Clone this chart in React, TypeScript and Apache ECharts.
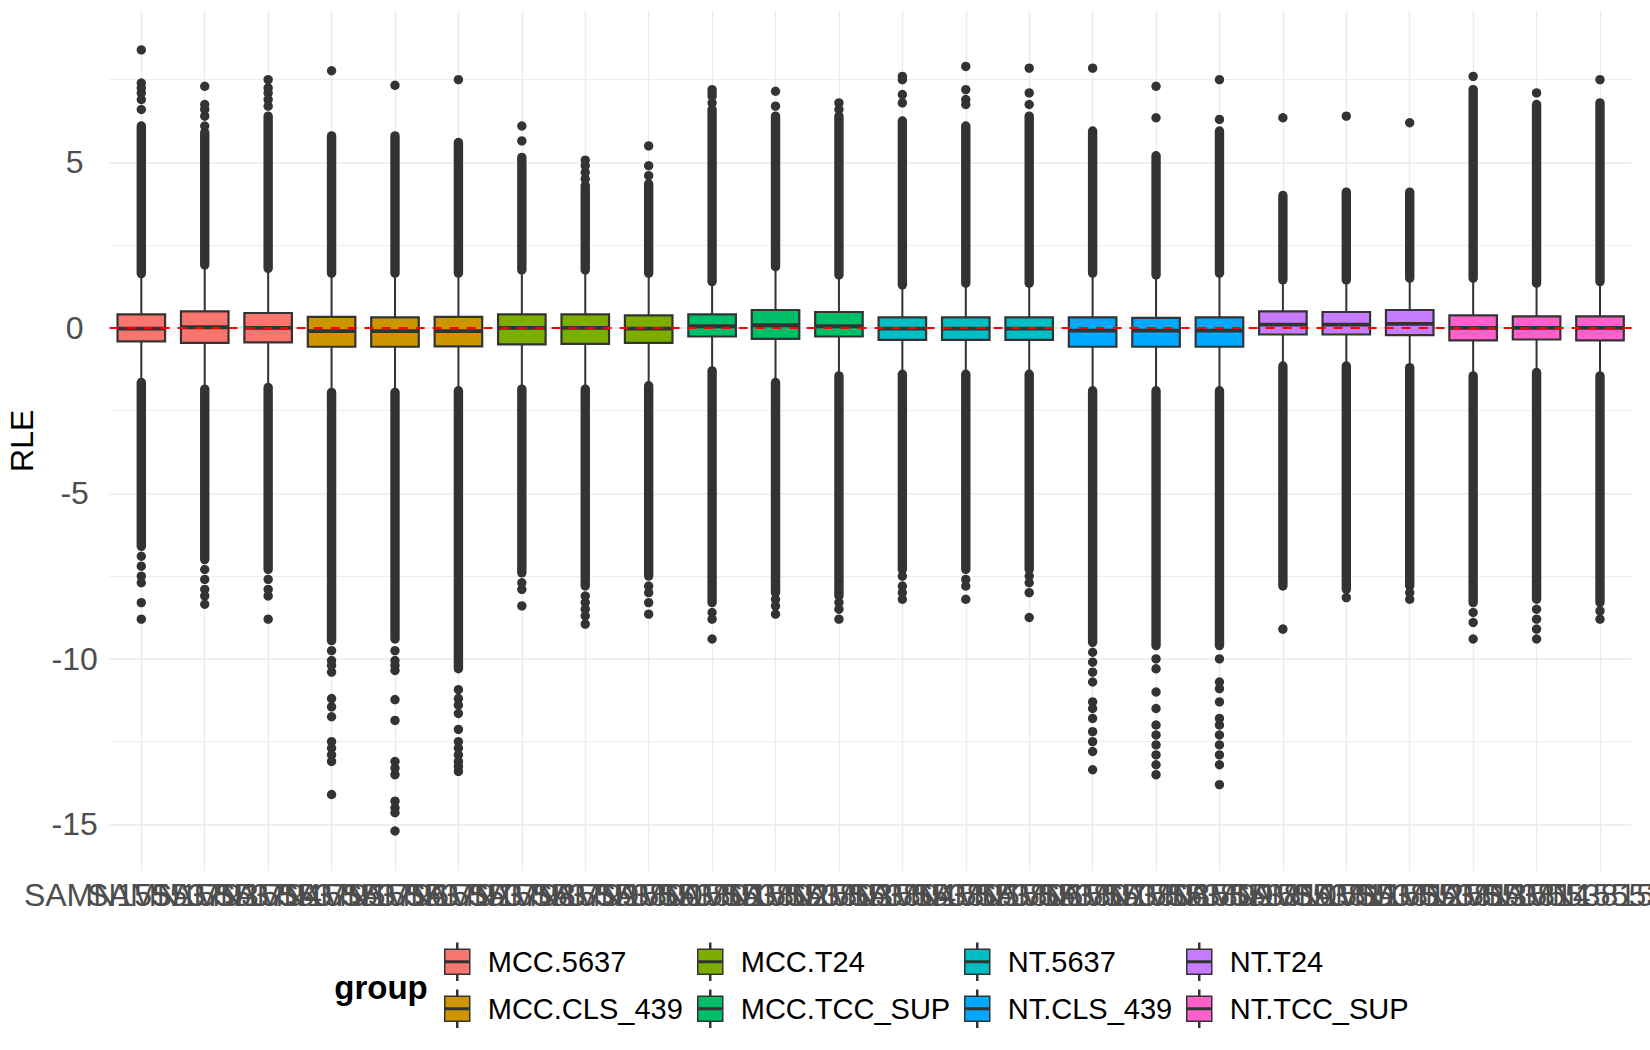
import React, { useEffect, useRef } from "react";
import * as echarts from "echarts";

const samples = [
  "SAMN15553793", "SAMN15553794", "SAMN15553795", "SAMN15553796", "SAMN15553797", "SAMN15553798",
  "SAMN15553799", "SAMN15553800", "SAMN15553801", "SAMN15553802", "SAMN15553803", "SAMN15553804",
  "SAMN15553805", "SAMN15553806", "SAMN15553807", "SAMN15553808", "SAMN15553809", "SAMN15553810",
  "SAMN15553811", "SAMN15553812", "SAMN15553813", "SAMN15553814", "SAMN15553815", "SAMN15553816",
];

const groups = ["MCC.5637", "MCC.CLS_439", "MCC.T24", "MCC.TCC_SUP", "NT.5637", "NT.CLS_439", "NT.T24", "NT.TCC_SUP"];
const groupColors = ["#F8766D", "#CD9600", "#7CAE00", "#00BE67", "#00BFC4", "#00A9FF", "#C77CFF", "#FF61CC"];
const sampleGroup = [0, 0, 0, 1, 1, 1, 2, 2, 2, 3, 3, 3, 4, 4, 4, 5, 5, 5, 6, 6, 6, 7, 7, 7];

// [lower whisker, Q1, median, Q3, upper whisker]
const boxStats = [
  [-1.65, -0.41, -0.02, 0.41, 1.64],
  [-1.85, -0.45, 0.02, 0.5, 1.9],
  [-1.8, -0.44, 0.0, 0.45, 1.8],
  [-1.95, -0.57, -0.1, 0.33, 1.65],
  [-1.95, -0.57, -0.1, 0.32, 1.65],
  [-1.9, -0.56, -0.1, 0.33, 1.65],
  [-1.85, -0.5, 0.0, 0.41, 1.75],
  [-1.85, -0.48, 0.0, 0.41, 1.75],
  [-1.75, -0.45, -0.02, 0.38, 1.65],
  [-1.3, -0.26, 0.05, 0.41, 1.4],
  [-1.65, -0.33, 0.08, 0.54, 1.85],
  [-1.45, -0.26, 0.05, 0.48, 1.6],
  [-1.4, -0.36, -0.02, 0.32, 1.3],
  [-1.4, -0.36, -0.02, 0.32, 1.35],
  [-1.4, -0.36, -0.02, 0.32, 1.35],
  [-1.9, -0.57, -0.08, 0.32, 1.65],
  [-1.9, -0.57, -0.08, 0.3, 1.6],
  [-1.9, -0.57, -0.08, 0.32, 1.65],
  [-1.15, -0.2, 0.1, 0.5, 1.45],
  [-1.15, -0.2, 0.1, 0.48, 1.45],
  [-1.2, -0.22, 0.12, 0.54, 1.5],
  [-1.45, -0.38, 0.0, 0.38, 1.5],
  [-1.35, -0.35, 0.0, 0.35, 1.35],
  [-1.45, -0.38, 0.0, 0.35, 1.4],
];

// where the densely overlapping outlier points end (upper / lower)
const denseHigh = [6.1, 5.9, 6.4, 5.8, 5.8, 5.6, 5.15, 4.3, 4.35, 6.6, 6.4, 6.4, 6.25, 6.1, 6.4, 5.95, 5.2, 5.95, 4.0, 4.1, 4.1, 7.2, 6.75, 6.8];
const denseLow = [-6.6, -7.0, -7.3, -9.45, -9.4, -10.3, -7.4, -7.8, -7.5, -8.3, -8.0, -8.1, -7.3, -7.3, -7.3, -9.5, -9.6, -9.6, -7.8, -7.9, -7.8, -8.3, -8.2, -8.3];

// isolated outliers beyond the dense columns
const sparseHigh = [
  [6.6, 6.9, 7.1, 7.25, 7.4, 8.4],
  [6.1, 6.4, 6.6, 6.75, 7.3],
  [6.7, 6.9, 7.1, 7.25, 7.5],
  [7.77],
  [7.33],
  [7.5],
  [5.65, 6.1],
  [4.5, 4.7, 4.9, 5.07],
  [4.6, 4.9, 5.5],
  [6.8, 7.0, 7.1, 7.2],
  [6.7, 7.15],
  [6.6, 6.8],
  [6.8, 7.05, 7.5, 7.6],
  [6.75, 6.9, 7.2, 7.9],
  [6.75, 7.1, 7.85],
  [7.85],
  [6.35, 7.3],
  [6.3, 7.5],
  [6.35],
  [6.4],
  [6.2],
  [7.6],
  [7.1],
  [7.5],
];
const sparseLow = [
  [-6.9, -7.2, -7.5, -7.7, -8.3, -8.8],
  [-7.3, -7.6, -7.9, -8.1, -8.35],
  [-7.6, -7.9, -8.1, -8.8],
  [-9.75, -10.05, -10.2, -10.4, -11.2, -11.45, -11.75, -12.5, -12.7, -12.9, -13.1, -14.1],
  [-9.75, -10.05, -10.2, -10.35, -11.23, -11.86, -13.1, -13.3, -13.5, -14.3, -14.5, -14.65, -15.2],
  [-10.93, -11.2, -11.4, -11.65, -12.13, -12.5, -12.7, -12.9, -13.1, -13.25, -13.4],
  [-7.7, -7.9, -8.4],
  [-8.1, -8.3, -8.5, -8.7, -8.95],
  [-7.8, -8.0, -8.3, -8.65],
  [-8.6, -8.8, -9.4],
  [-8.2, -8.4, -8.65],
  [-8.3, -8.5, -8.8],
  [-7.5, -7.8, -8.0, -8.2],
  [-7.6, -7.8, -8.2],
  [-7.5, -7.7, -8.0, -8.75],
  [-9.8, -10.1, -10.4, -10.7, -11.3, -11.5, -11.8, -12.2, -12.5, -12.8, -13.35],
  [-10.0, -10.3, -11.0, -11.5, -12.0, -12.3, -12.6, -12.9, -13.2, -13.5],
  [-10.0, -10.7, -10.9, -11.3, -11.8, -12.0, -12.3, -12.6, -12.9, -13.2, -13.8],
  [-9.1],
  [-8.15],
  [-8.0, -8.2],
  [-8.6, -8.9, -9.4],
  [-8.5, -8.8, -9.1, -9.4],
  [-8.55, -8.8],
];

const yTicks = [-15, -10, -5, 0, 5];
const yMinorTicks = [-12.5, -7.5, -2.5, 2.5, 7.5];
const yRange = [-16.41, 9.59];
const refLineValue = 0;
const legendColumns = [
  ["MCC.5637", "MCC.CLS_439"],
  ["MCC.T24", "MCC.TCC_SUP"],
  ["NT.5637", "NT.CLS_439"],
  ["NT.T24", "NT.TCC_SUP"],
];
const legendTitle = "group";
const yAxisTitle = "RLE";

const FONT = "'Liberation Sans', Arial, Helvetica, sans-serif";
const DARK = "#333333";
const GRID = "#EBEBEB";

const LEGEND_ICON =
  "path://M12,0L13,0L13,6L12,6Z M0,6L25,6L25,17.75L0,17.75Z M0,19.25L25,19.25L25,31L0,31Z M12,31L13,31L13,37L12,37Z";

function buildOption() {
  const boxSeries = groups.map((g, gi) => {
    const data: number[][] = [];
    samples.forEach((_, si) => {
      if (sampleGroup[si] === gi) data.push([si, ...boxStats[si]]);
    });
    const color = groupColors[gi];
    return {
      type: "custom",
      name: g,
      z: 2,
      itemStyle: { color },
      encode: { x: 0, y: [1, 2, 3, 4, 5] },
      data,
      renderItem: (params: any, api: any) => {
        const x = api.value(0);
        const pLow = api.coord([x, api.value(1)]);
        const pQ1 = api.coord([x, api.value(2)]);
        const pMed = api.coord([x, api.value(3)]);
        const pQ3 = api.coord([x, api.value(4)]);
        const pHigh = api.coord([x, api.value(5)]);
        const band = api.size([1, 0])[0];
        const hw = band * 0.375;
        const cx = pQ1[0];
        return {
          type: "group",
          children: [
            { type: "line", shape: { x1: cx, y1: pLow[1], x2: cx, y2: pQ1[1] }, style: { stroke: DARK, lineWidth: 2 } },
            { type: "line", shape: { x1: cx, y1: pQ3[1], x2: cx, y2: pHigh[1] }, style: { stroke: DARK, lineWidth: 2 } },
            {
              type: "rect",
              shape: { x: cx - hw, y: pQ3[1], width: hw * 2, height: pQ1[1] - pQ3[1] },
              style: { fill: color, stroke: DARK, lineWidth: 2.2 },
            },
            { type: "line", shape: { x1: cx - hw, y1: pMed[1], x2: cx + hw, y2: pMed[1] }, style: { stroke: DARK, lineWidth: 3.8 } },
          ],
        };
      },
    };
  });

  const columnData: number[][] = [];
  samples.forEach((_, si) => {
    columnData.push([si, boxStats[si][4], denseHigh[si]]);
    columnData.push([si, boxStats[si][0], denseLow[si]]);
  });

  const outlierData: number[][] = [];
  samples.forEach((_, si) => {
    sparseHigh[si].forEach((v) => outlierData.push([si, v]));
    sparseLow[si].forEach((v) => outlierData.push([si, v]));
  });

  const gridLines = [
    ...yTicks.map((v) => ({ yAxis: v, lineStyle: { color: GRID, width: 1.6, type: "solid" } })),
    ...yMinorTicks.map((v) => ({ yAxis: v, lineStyle: { color: GRID, width: 0.9, type: "solid" } })),
    ...samples.map((s) => ({ xAxis: s, lineStyle: { color: GRID, width: 1.4, type: "solid" } })),
  ];

  return {
    animation: false,
    backgroundColor: "#ffffff",
    textStyle: { fontFamily: FONT },
    grid: {
      left: 109.6,
      right: 18.3,
      top: 10.5,
      bottom: 179,
      containLabel: false,
      outerBoundsMode: "none",
    },
    xAxis: {
      type: "category",
      data: samples,
      boundaryGap: true,
      axisLine: { show: false },
      axisTick: { show: true, alignWithLabel: true, length: 6, lineStyle: { color: GRID, width: 1.4 } },
      splitLine: { show: false },
      axisLabel: {
        interval: 0,
        fontSize: 32,
        color: "#4D4D4D",
        fontFamily: FONT,
        margin: 8,
        hideOverlap: false,
      },
    },
    yAxis: {
      type: "value",
      min: yRange[0],
      max: yRange[1],
      name: yAxisTitle,
      nameLocation: "middle",
      nameGap: 72,
      nameTextStyle: { fontSize: 32, color: "#000000", fontFamily: FONT },
      axisLine: { show: false },
      axisTick: { show: false, customValues: yTicks },
      splitLine: { show: false },
      axisLabel: {
        customValues: yTicks,
        fontSize: 32,
        color: "#4D4D4D",
        fontFamily: FONT,
        align: "center",
        margin: 35,
      },
    },
    legend: legendColumns.map((col, ci) => ({
      orient: "vertical",
      left: [444, 697, 964, 1186][ci],
      top: 942.5,
      padding: 0,
      itemWidth: 25,
      itemHeight: 37,
      itemGap: 8.5,
      selectedMode: false,
      icon: LEGEND_ICON,
      itemStyle: { borderColor: DARK, borderWidth: 1.5 },
      textStyle: { fontSize: 29, color: "#000000", fontFamily: FONT, padding: [0, 0, 0, 13] },
      data: col,
    })),
    graphic: [
      {
        type: "text",
        x: 381,
        y: 987,
        style: {
          text: legendTitle,
          fontSize: 33,
          fontWeight: "bold",
          fontFamily: FONT,
          fill: "#000000",
          textAlign: "center",
          textVerticalAlign: "middle",
        },
      },
    ],
    series: [
      {
        type: "line",
        name: "__grid",
        data: [],
        silent: true,
        markLine: {
          silent: true,
          z: 0,
          symbol: ["none", "none"],
          label: { show: false },
          emphasis: { disabled: true },
          data: gridLines,
        },
      },
      ...boxSeries,
      {
        type: "custom",
        name: "__dense",
        z: 3,
        silent: true,
        encode: { x: 0, y: [1, 2] },
        data: columnData,
        renderItem: (params: any, api: any) => {
          const x = api.value(0);
          const a = api.coord([x, api.value(1)]);
          const b = api.coord([x, api.value(2)]);
          return {
            type: "line",
            shape: { x1: a[0], y1: a[1], x2: b[0], y2: b[1] },
            style: { stroke: DARK, lineWidth: 9.4, lineCap: "round" },
          };
        },
      },
      {
        type: "scatter",
        name: "__outliers",
        z: 3,
        silent: true,
        symbol: "circle",
        symbolSize: 9.4,
        itemStyle: { color: DARK, opacity: 1 },
        data: outlierData,
        markLine: {
          silent: true,
          z: 10,
          symbol: ["none", "none"],
          label: { show: false },
          emphasis: { disabled: true },
          data: [{ yAxis: refLineValue, lineStyle: { color: "#FF0000", width: 2, type: [9, 8] } }],
        },
      },
    ],
  };
}

export default function App() {
  const ref = useRef<HTMLDivElement>(null);
  useEffect(() => {
    if (!ref.current) return;
    const chart = echarts.init(ref.current, null, { renderer: "svg" });
    chart.setOption(buildOption() as any);
    return () => chart.dispose();
  }, []);
  return (
    <div
      ref={ref}
      style={{ position: "absolute", left: 0, top: 0, width: 1650, height: 1050, background: "#ffffff" }}
    />
  );
}
